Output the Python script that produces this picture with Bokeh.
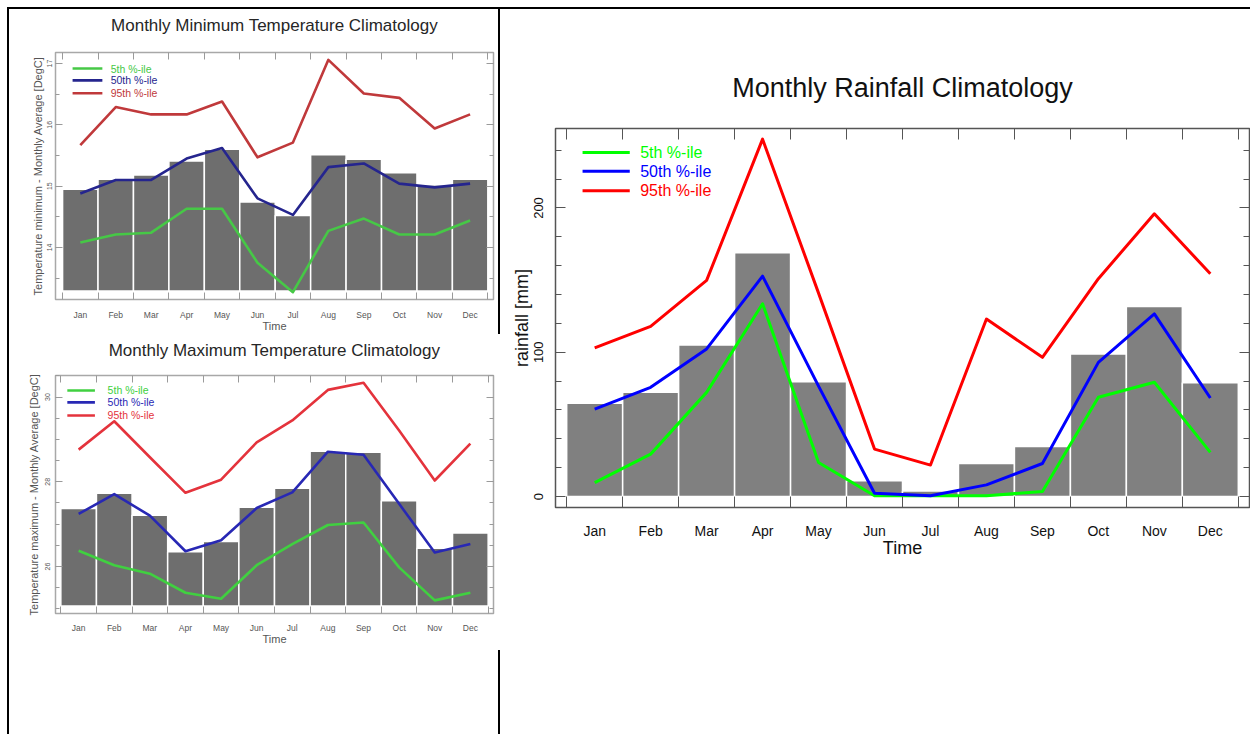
from bokeh.plotting import figure
from bokeh.models import Range1d, FixedTicker, LinearAxis, Div, Spacer, Title
from bokeh.layouts import row, column
from bokeh.embed import file_html
from bokeh.resources import INLINE
from bokeh.core.properties import value

# ---------------- data ----------------
months = ["Jan", "Feb", "Mar", "Apr", "May", "Jun", "Jul", "Aug", "Sep", "Oct", "Nov", "Dec"]
month_idx = [1, 2, 3, 4, 5, 6, 7, 8, 9, 10, 11, 12]
pct_labels = ["5th %-ile", "50th %-ile", "95th %-ile"]

tmin_mean = [14.95, 15.11, 15.18, 15.41, 15.60, 14.74, 14.52, 15.51, 15.44, 15.22, 15.02, 15.11]
tmin_p05 = [14.08, 14.21, 14.24, 14.63, 14.63, 13.75, 13.27, 14.27, 14.47, 14.21, 14.21, 14.44]
tmin_p50 = [14.88, 15.10, 15.10, 15.45, 15.62, 14.80, 14.53, 15.31, 15.37, 15.04, 14.98, 15.04]
tmin_p95 = [15.67, 16.29, 16.17, 16.17, 16.38, 15.47, 15.71, 17.06, 16.51, 16.44, 15.94, 16.17]
tmin_base = 13.29
tmin_yticks = [14, 15, 16, 17]
tmin_yminor = [13.5, 14.0, 14.5, 15.0, 15.5, 16.0, 16.5, 17.0]

tmax_mean = [27.37, 27.73, 27.21, 26.35, 26.59, 27.40, 27.85, 28.72, 28.70, 27.55, 26.43, 26.79]
tmax_p05 = [26.37, 26.03, 25.83, 25.38, 25.24, 26.03, 26.53, 26.98, 27.04, 25.98, 25.20, 25.38]
tmax_p50 = [27.24, 27.71, 27.20, 26.36, 26.62, 27.38, 27.75, 28.71, 28.64, 27.48, 26.33, 26.53]
tmax_p95 = [28.76, 29.43, 28.58, 27.74, 28.05, 28.93, 29.45, 30.17, 30.34, 29.21, 28.03, 28.90]
tmax_base = 25.07
tmax_yticks = [26, 28, 30]
tmax_yminor = [25.0, 25.5, 26.0, 26.5, 27.0, 27.5, 28.0, 28.5, 29.0, 29.5, 30.0, 30.5]

rain_mean = [64.6, 72.2, 105.1, 169.0, 79.6, 10.9, 3.9, 22.9, 34.7, 98.8, 131.7, 78.9]
rain_p05 = [9.7, 29.4, 72.2, 133.6, 23.6, 0.5, 0.5, 0.5, 3.5, 68.8, 79.2, 30.6]
rain_p50 = [60.6, 75.7, 102.3, 152.8, 76.5, 2.3, 0.5, 8.1, 22.9, 93.0, 126.6, 68.3]
rain_p95 = [103.0, 118.0, 149.8, 247.7, 141.0, 32.9, 21.8, 123.0, 96.5, 151.0, 196.0, 154.4]
rain_base = 0.0
rain_yticks = [0, 100, 200]
rain_yminor = [0, 20, 40, 60, 80, 100, 120, 140, 160, 180, 200, 220, 240]

month_bounds = [m - 0.5 for m in month_idx] + [12.5]
FONT = "Liberation Sans"


def style_axis(ax, ticker, show, font_size, color, tick_color, major_in, minor_in,
               standoff, overrides=None, orientation=None, label=None, label_size="10px",
               label_standoff=0, major_tick_visible=True):
    ax.ticker = ticker
    ax.axis_line_color = None
    ax.major_tick_out = 0
    ax.minor_tick_out = 0
    ax.major_tick_in = major_in
    ax.minor_tick_in = minor_in
    ax.major_tick_line_color = tick_color if major_tick_visible else None
    ax.minor_tick_line_color = tick_color
    ax.major_tick_line_width = 1
    ax.minor_tick_line_width = 1
    if overrides:
        ax.major_label_overrides = overrides
    if show:
        ax.major_label_text_font = FONT
        ax.major_label_text_font_size = font_size
        ax.major_label_text_color = color
        ax.major_label_standoff = standoff
        if orientation:
            ax.major_label_orientation = orientation
    else:
        ax.major_label_text_font_size = "0px"
        ax.major_label_standoff = 0
        ax.major_label_text_alpha = 0
    if label:
        ax.axis_label = label
        ax.axis_label_text_font = FONT
        ax.axis_label_text_font_size = label_size
        ax.axis_label_text_font_style = "normal"
        ax.axis_label_text_color = color
        ax.axis_label_standoff = label_standoff


def build(cfg):
    p = figure(width=cfg["w"], height=cfg["h"],
               x_range=Range1d(*cfg["xr"]), y_range=Range1d(*cfg["yr"]),
               toolbar_location=None, output_backend="svg",
               min_border_left=cfg["bl"], min_border_right=cfg["br"],
               min_border_top=cfg["bt"], min_border_bottom=cfg["bb"])
    p.grid.visible = False
    p.outline_line_color = cfg["frame_color"]
    p.outline_line_width = 1.5
    p.background_fill_color = "white"
    p.border_fill_color = "white"
    p.title.text = ""

    xt = FixedTicker(ticks=month_idx, minor_ticks=month_bounds)
    yt = FixedTicker(ticks=cfg["yticks"], minor_ticks=cfg["yminor"])
    overrides = {m: name for m, name in zip(month_idx, months)}

    style_axis(p.xaxis[0], xt, True, cfg["xtick_size"], cfg["text_color"], cfg["tick_color"],
               0, cfg["xtick_len"], cfg["xstandoff"], overrides=overrides,
               label="Time", label_size=cfg["xlabel_size"], label_standoff=cfg["xlabel_standoff"],
               major_tick_visible=False)
    style_axis(p.yaxis[0], yt, True, cfg["ytick_size"], cfg["text_color"], cfg["tick_color"],
               cfg["ymajor_len"], cfg["yminor_len"], cfg["ystandoff"], orientation="vertical",
               label=cfg["ylabel"], label_size=cfg["ylabel_size"], label_standoff=cfg["ylabel_standoff"])

    # mirrored inward ticks on the top and right edges
    top = LinearAxis()
    style_axis(top, FixedTicker(ticks=month_idx, minor_ticks=month_bounds), False, "0px",
               cfg["text_color"], cfg["tick_color"], 0, cfg["xtick_len"], 0,
               major_tick_visible=False)
    p.add_layout(top, "above")
    right = LinearAxis()
    style_axis(right, FixedTicker(ticks=cfg["yticks"], minor_ticks=cfg["yminor"]), False, "0px",
               cfg["text_color"], cfg["tick_color"], cfg["ymajor_len"], cfg["yminor_len"], 0)
    p.add_layout(right, "right")

    # blank spacer between the frame and the title, then the title itself
    p.add_layout(Title(text=" ", text_font_size="1px", standoff=cfg["title_gap"]), "above")
    p.add_layout(Title(text=cfg["title"], align="center", text_font=FONT,
                       text_font_size=cfg["title_size"], text_font_style="normal",
                       text_color=cfg["title_color"], standoff=cfg["title_standoff"]), "above")

    p.vbar(x=month_idx, width=1.0, bottom=cfg["base"], top=cfg["mean"],
           fill_color=cfg["bar_color"], line_color="white", line_width=1.5)

    series = [cfg["p05"], cfg["p50"], cfg["p95"]]
    for vals, col in zip(series, cfg["colors"]):
        p.line(month_idx, vals, line_color=col, line_width=cfg["lw"], line_join="round")

    # legend (positions as fractions of the plotting frame)
    x0, x1 = cfg["xr"]
    y0, y1 = cfg["yr"]
    fx = lambda f: x0 + f * (x1 - x0)
    fy = lambda f: y1 - f * (y1 - y0)
    lx0, lx1, tx = cfg["leg_x"]
    for fyv, col, lab in zip(cfg["leg_y"], cfg["colors"], pct_labels):
        p.line([fx(lx0), fx(lx1)], [fy(fyv), fy(fyv)], line_color=col, line_width=cfg["lw"])
        p.text(x=[fx(tx)], y=[fy(fyv)], text=[lab], text_color=col,
               text_font=value(FONT), text_font_size=cfg["leg_size"],
               text_baseline="middle", text_align="left")
    return p


common_left = dict(frame_color="#a8a8a8", tick_color="#9a9a9a", text_color="#555555",
                   title_color="#262626", bar_color="#6e6e6e", lw=2.6,
                   xtick_size="8.5px", xlabel_size="11px", ytick_size="7px", ylabel_size="11px",
                   title_size="17px", leg_size="10.5px", xtick_len=7, ymajor_len=7, yminor_len=4,
                   title_standoff=2)

f1 = build(dict(common_left, w=489, h=325, bl=46, br=5, bt=43, bb=34, title_gap=14,
                xr=(0.3, 12.66), yr=(13.15, 17.18), title="Monthly Minimum Temperature Climatology",
                yticks=tmin_yticks, yminor=tmin_yminor, base=tmin_base, mean=tmin_mean,
                p05=tmin_p05, p50=tmin_p50, p95=tmin_p95,
                colors=["#46c846", "#25258e", "#c0393b"],
                ylabel="Temperature minimum - Monthly Average [DegC]",
                xstandoff=10, xlabel_standoff=-3, ystandoff=3, ylabel_standoff=1,
                leg_x=(0.039, 0.107, 0.126), leg_y=(0.065, 0.113, 0.165)))

f2 = build(dict(common_left, w=489, h=316, bl=40, br=5, bt=41, bb=37, title_gap=12,
                xr=(0.35, 12.65), yr=(24.89, 30.51), title="Monthly Maximum Temperature Climatology",
                yticks=tmax_yticks, yminor=tmax_yminor, base=tmax_base, mean=tmax_mean,
                p05=tmax_p05, p50=tmax_p50, p95=tmax_p95,
                colors=["#40d040", "#2828b4", "#e4333c"],
                ylabel="Temperature maximum - Monthly Average [DegC]",
                xstandoff=9, xlabel_standoff=-3, ystandoff=5, ylabel_standoff=3,
                leg_x=(0.027, 0.09, 0.119), leg_y=(0.063, 0.113, 0.168)))

f3 = build(dict(frame_color="#555555", tick_color="#555555", text_color="#111111",
                title_color="#111111", bar_color="#808080", lw=3,
                xtick_size="14px", xlabel_size="18px", ytick_size="13px", ylabel_size="18px",
                title_size="27px", leg_size="16px", xtick_len=11, ymajor_len=10, yminor_len=6,
                title_standoff=25, title_gap=10,
                w=750, h=725, bl=55, br=1, bt=119, bb=227,
                xr=(0.3, 12.7), yr=(-7.6, 255.1), title="Monthly Rainfall Climatology",
                yticks=rain_yticks, yminor=rain_yminor, base=rain_base, mean=rain_mean,
                p05=rain_p05, p50=rain_p50, p95=rain_p95,
                colors=["#00ff00", "#0000ff", "#ff0000"],
                ylabel="rainfall [mm]",
                xstandoff=15, xlabel_standoff=-4, ystandoff=12, ylabel_standoff=0,
                leg_x=(0.039, 0.107, 0.122), leg_y=(0.063, 0.113, 0.164)))

black = {"background-color": "black"}
left_col = column(f1, f2, Spacer(width=489, height=84))
divider = column(Div(text="", width=2, height=325, margin=0, styles=black),
                 Div(text="", width=2, height=316, margin=0,
                     styles={"background-color": "white"}),
                 Div(text="", width=2, height=84, margin=0, styles=black))
main_row = row(Spacer(width=7, height=725),
               Div(text="", width=2, height=725, margin=0, styles=black),
               left_col,
               divider,
               f3)
top_line = row(Spacer(width=7, height=2), Div(text="", width=1243, height=2, margin=0, styles=black))
layout = column(Spacer(width=1250, height=7), top_line, main_row)

open("out.html", "w").write(file_html(layout, INLINE))
